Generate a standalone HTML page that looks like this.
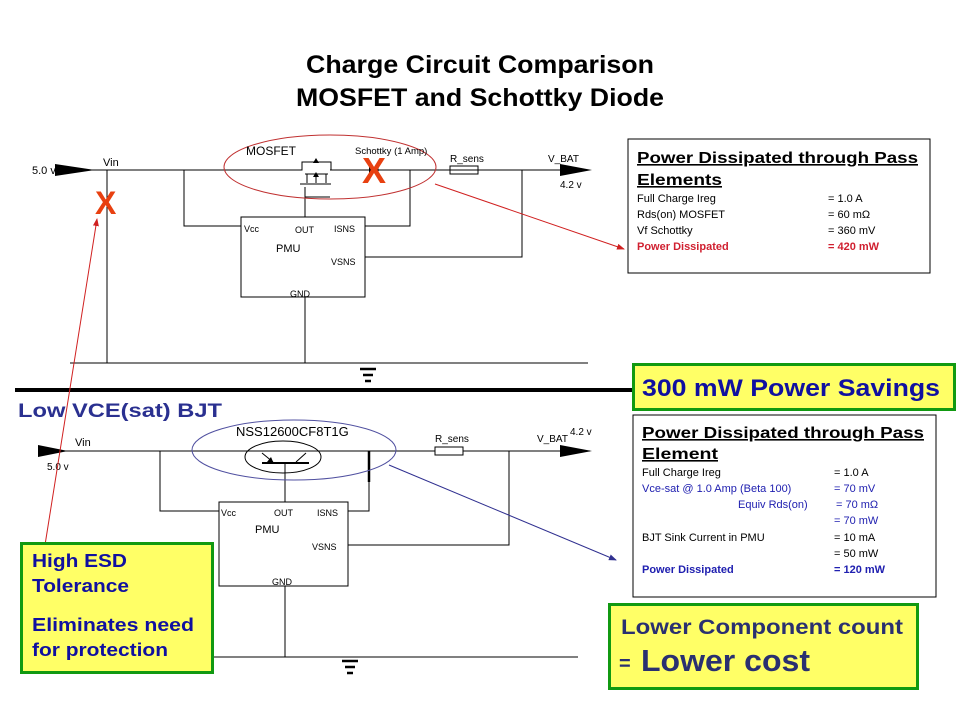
<!DOCTYPE html>
<html><head><meta charset="utf-8"><style>
html,body{margin:0;padding:0;background:#fff;}
svg{display:block;font-family:"Liberation Sans",Arial,sans-serif;}
</style></head><body>
<svg width="960" height="720" viewBox="0 0 960 720" xmlns="http://www.w3.org/2000/svg">
<defs>
<marker id="ar" markerWidth="8" markerHeight="8" refX="7" refY="4" orient="auto" markerUnits="userSpaceOnUse"><path d="M0,1 L8,4 L0,7z" fill="#d02020"/></marker>
<marker id="ab" markerWidth="8" markerHeight="8" refX="7" refY="4" orient="auto" markerUnits="userSpaceOnUse"><path d="M0,1 L8,4 L0,7z" fill="#303090"/></marker>
</defs>
<text x="480" y="73" text-anchor="middle" font-size="25" font-weight="bold" textLength="348" lengthAdjust="spacingAndGlyphs">Charge Circuit Comparison</text>
<text x="480" y="106" text-anchor="middle" font-size="25" font-weight="bold" textLength="368" lengthAdjust="spacingAndGlyphs">MOSFET and Schottky Diode</text>

<g stroke="#000" stroke-width="1" fill="none">
<line x1="80" y1="170" x2="300" y2="170"/>
<line x1="330" y1="170" x2="500" y2="170"/>
<line x1="478" y1="170" x2="565" y2="170"/>
<line x1="107" y1="170" x2="107" y2="363"/>
<polyline points="184,170 184,226 241,226"/>
<polyline points="410,170 410,226 365,226"/>
<polyline points="522,170 522,257 365,257"/>
<polyline points="305,187 305,197 330,197"/>
<line x1="305" y1="197" x2="305" y2="217"/>
<line x1="305" y1="297" x2="305" y2="363"/>
<line x1="70" y1="363" x2="588" y2="363"/>
<rect x="241" y="217" width="124" height="80"/>
<rect x="450" y="166" width="28" height="8"/>
<polyline points="300,170 302,170 302,162 331,162 331,170"/>
<line x1="305" y1="174" x2="328" y2="174"/>
<line x1="307" y1="174" x2="307" y2="183"/>
<line x1="316" y1="174" x2="316" y2="183"/>
<line x1="326" y1="174" x2="326" y2="183"/>
<line x1="300" y1="184" x2="331" y2="184"/>
<line x1="360" y1="170" x2="385" y2="170"/>
</g>
<path d="M316,158 l-3,5 h6z M316,172 l-3,5 h6z" fill="#000"/>
<path d="M369,164 L377,170 L369,176z" fill="#000"/>
<line x1="378" y1="164" x2="378" y2="178" stroke="#000"/>
<path d="M55,164 L95,170 L55,176z" fill="#000"/>
<path d="M560,164 L592,170 L560,176z" fill="#000"/>
<g fill="#000" stroke="#000" stroke-width="2.5">
<line x1="360" y1="369" x2="376" y2="369"/><line x1="363" y1="375" x2="373" y2="375"/><line x1="365" y1="381" x2="371" y2="381"/>
</g>
<ellipse cx="330" cy="167" rx="106" ry="32" fill="none" stroke="#c03030" stroke-width="1"/>
<line x1="435" y1="184" x2="624" y2="249" stroke="#d02020" stroke-width="1" marker-end="url(#ar)"/>
<g font-size="11" fill="#000">
<text x="32" y="174">5.0 v</text>
<text x="103" y="166">Vin</text>
<text x="246" y="155" font-size="12">MOSFET</text>
<text x="355" y="154" font-size="9.5">Schottky (1 Amp)</text>
<text x="450" y="162" font-size="10">R_sens</text>
<text x="548" y="162" font-size="10">V_BAT</text>
<text x="560" y="188" font-size="10">4.2 v</text>
<text x="244" y="232" font-size="9">Vcc</text>
<text x="295" y="233" font-size="9">OUT</text>
<text x="334" y="232" font-size="9">ISNS</text>
<text x="276" y="252" font-size="11">PMU</text>
<text x="331" y="265" font-size="9">VSNS</text>
<text x="290" y="297" font-size="9">GND</text>
</g>
<text x="95" y="214" font-size="32" fill="#e84010" font-weight="bold">X</text>
<text x="362" y="183" font-size="36" fill="#e84010" font-weight="bold">X</text>

<line x1="15" y1="390" x2="632" y2="390" stroke="#000" stroke-width="4"/>

<text x="18" y="417" font-size="19" font-weight="bold" fill="#2a3090" textLength="204" lengthAdjust="spacingAndGlyphs">Low VCE(sat) BJT</text>
<g stroke="#000" stroke-width="1" fill="none">
<line x1="60" y1="451" x2="590" y2="451"/>
<polyline points="160,451 160,511 219,511"/>
<polyline points="369,451 369,511 348,511"/>
<polyline points="509,451 509,545 348,545"/>
<line x1="285" y1="463" x2="285" y2="502"/>
<line x1="285" y1="586" x2="285" y2="657"/>
<line x1="213" y1="657" x2="578" y2="657"/>
<rect x="219" y="502" width="129" height="84"/>
<rect x="435" y="447" width="28" height="8" fill="#fff"/>
<ellipse cx="283" cy="457" rx="38" ry="16"/>
<line x1="262" y1="453" x2="273" y2="462"/>
<line x1="296" y1="462" x2="306" y2="453"/>
</g>
<rect x="262" y="462" width="47" height="2" fill="#000"/>
<path d="M274,464 L267,462 L271,457z" fill="#000"/>
<line x1="369" y1="451" x2="369" y2="482" stroke="#000" stroke-width="2.5"/>
<path d="M38,445 L68,451 L38,457z" fill="#000"/>
<path d="M560,445 L592,451 L560,457z" fill="#000"/>
<g fill="#000" stroke="#000" stroke-width="2.5">
<line x1="342" y1="661" x2="358" y2="661"/><line x1="345" y1="667" x2="355" y2="667"/><line x1="347" y1="673" x2="353" y2="673"/>
</g>
<ellipse cx="294" cy="450" rx="102" ry="30" fill="none" stroke="#5050a0" stroke-width="1"/>
<line x1="389" y1="465" x2="616" y2="560" stroke="#303090" stroke-width="1" marker-end="url(#ab)"/>
<g font-size="11" fill="#000">
<text x="75" y="446">Vin</text>
<text x="47" y="470" font-size="10">5.0 v</text>
<text x="236" y="436" font-size="13">NSS12600CF8T1G</text>
<text x="435" y="442" font-size="10">R_sens</text>
<text x="537" y="442" font-size="10">V_BAT</text>
<text x="570" y="435" font-size="10">4.2 v</text>
<text x="221" y="516" font-size="9">Vcc</text>
<text x="274" y="516" font-size="9">OUT</text>
<text x="317" y="516" font-size="9">ISNS</text>
<text x="255" y="533" font-size="11">PMU</text>
<text x="312" y="550" font-size="9">VSNS</text>
<text x="272" y="585" font-size="9">GND</text>
</g>
<line x1="45" y1="545" x2="97" y2="219" stroke="#d02020" stroke-width="1" marker-end="url(#ar)"/>

<rect x="628" y="139" width="302" height="134" fill="#fff" stroke="#000" stroke-width="1"/>
<g font-size="11" fill="#000">
<text x="637" y="163" font-size="16" font-weight="bold" text-decoration="underline" textLength="281" lengthAdjust="spacingAndGlyphs">Power Dissipated through Pass</text>
<text x="637" y="185" font-size="16" font-weight="bold" text-decoration="underline" textLength="85" lengthAdjust="spacingAndGlyphs">Elements</text>
<text x="637" y="202">Full Charge  Ireg</text><text x="828" y="202">= 1.0 A</text>
<text x="637" y="218">Rds(on)  MOSFET</text><text x="828" y="218">= 60  mΩ</text>
<text x="637" y="234">Vf Schottky</text><text x="828" y="234">= 360  mV</text>
<text x="637" y="250" fill="#d02030" font-weight="bold">Power Dissipated</text><text x="828" y="250" fill="#d02030" font-weight="bold">= 420  mW</text>
</g>

<rect x="633.5" y="364.5" width="321" height="45" fill="#ffff66" stroke="#119911" stroke-width="3"/>
<text x="642" y="396" font-size="24" font-weight="bold" fill="#1010a0" textLength="298" lengthAdjust="spacingAndGlyphs">300 mW Power Savings</text>

<rect x="633" y="415" width="303" height="182" fill="#fff" stroke="#000" stroke-width="1"/>
<g font-size="11" fill="#000">
<text x="642" y="438" font-size="16" font-weight="bold" text-decoration="underline" textLength="282" lengthAdjust="spacingAndGlyphs">Power Dissipated through Pass</text>
<text x="642" y="459" font-size="16" font-weight="bold" text-decoration="underline" textLength="76" lengthAdjust="spacingAndGlyphs">Element</text>
<text x="642" y="476">Full Charge  Ireg</text><text x="834" y="476">=  1.0 A</text>
<text x="642" y="492" fill="#2020b0">Vce-sat @ 1.0 Amp (Beta 100)</text><text x="834" y="492" fill="#2020b0">=  70 mV</text>
<text x="738" y="508" fill="#2020b0">Equiv  Rds(on)</text><text x="836" y="508" fill="#2020b0">=  70  mΩ</text>
<text x="834" y="524" fill="#2020b0">=  70  mW</text>
<text x="642" y="541">BJT  Sink Current  in PMU</text><text x="834" y="541">=  10 mA</text>
<text x="834" y="557">=   50 mW</text>
<text x="642" y="573" fill="#2020b0" font-weight="bold">Power Dissipated</text><text x="834" y="573" fill="#2020b0" font-weight="bold">= 120  mW</text>
</g>

<rect x="609.5" y="604.5" width="308" height="84" fill="#ffff66" stroke="#119911" stroke-width="3"/>
<text x="621" y="634" font-size="21" font-weight="bold" fill="#2a3070" textLength="282" lengthAdjust="spacingAndGlyphs">Lower Component count</text>
<text x="619" y="670" font-size="20" font-weight="bold" fill="#2a3070">=</text>
<text x="641" y="671" font-size="31" font-weight="bold" fill="#2a3070" textLength="169" lengthAdjust="spacingAndGlyphs">Lower cost</text>

<rect x="21.5" y="543.5" width="191" height="129" fill="#ffff66" stroke="#119911" stroke-width="3"/>
<g font-size="18" font-weight="bold" fill="#1010a0">
<text x="32" y="567" textLength="95" lengthAdjust="spacingAndGlyphs">High  ESD</text>
<text x="32" y="592" textLength="97" lengthAdjust="spacingAndGlyphs">Tolerance</text>
<text x="32" y="631" textLength="162" lengthAdjust="spacingAndGlyphs">Eliminates  need</text>
<text x="32" y="656" textLength="136" lengthAdjust="spacingAndGlyphs">for protection</text>
</g>
</svg>
</body></html>
